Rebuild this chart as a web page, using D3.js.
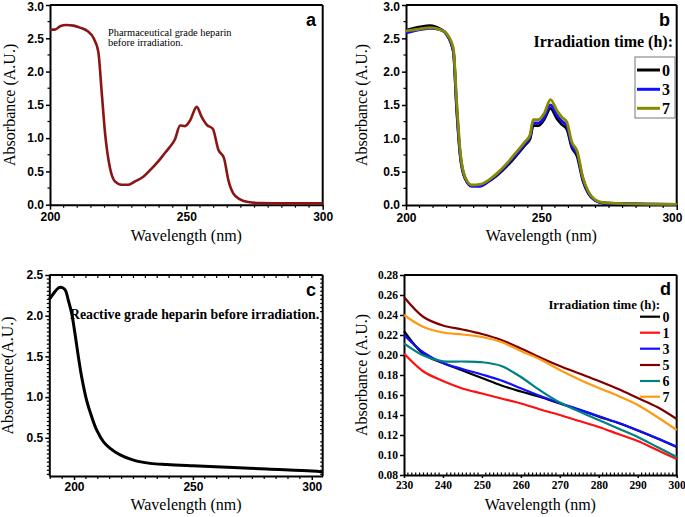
<!DOCTYPE html>
<html><head><meta charset="utf-8">
<script src="https://cdn.jsdelivr.net/npm/d3@7"></script>
<style>body{margin:0;background:#fff}svg{display:block}</style>
</head><body><svg id="chart" width="685" height="517"></svg>
<script>
// ---- Panel a: pharmaceutical grade heparin ----
const aWl  = [200,201.8,203.7,206,208.6,211,213.7,216,217.7,219,220.2,222,223.8,226.3,228.7,231.2,234.2,236.7,239.7,242.2,244,245.8,247.7,249.5,251.3,253.8,255.6,257.5,259.7,261.7,263.8,265.4,267.2,269.7,272.7,277,285.6,300];
const aAbs = [2.63,2.63,2.68,2.70,2.69,2.66,2.61,2.50,2.30,1.67,1.07,0.55,0.35,0.30,0.30,0.35,0.42,0.52,0.65,0.78,0.87,0.98,1.19,1.18,1.26,1.47,1.32,1.20,1.14,0.83,0.70,0.37,0.17,0.08,0.04,0.025,0.02,0.02];

// ---- Panel b: irradiation 0, 3, 7 h ----
const bWl = [200,205.2,208.9,212.6,215,217.5,218.7,220,221.8,224.3,227.3,230.4,233.5,237.2,240.3,244,245.8,247,248.9,251,253.4,255.7,257.5,259.4,261.2,263.3,265.3,267.4,269.8,272.9,280.3,300];
const b0  = [2.62,2.67,2.69,2.64,2.56,2.30,1.45,0.75,0.40,0.29,0.29,0.35,0.44,0.58,0.72,0.90,0.99,1.19,1.19,1.28,1.45,1.30,1.21,1.14,0.87,0.72,0.37,0.17,0.07,0.03,0.02,0.01];
const b3  = [2.58,2.63,2.65,2.63,2.56,2.31,1.48,0.77,0.41,0.28,0.28,0.35,0.45,0.60,0.74,0.92,1.02,1.23,1.23,1.31,1.50,1.35,1.26,1.19,0.90,0.76,0.40,0.18,0.07,0.03,0.02,0.01];
const b7  = [2.61,2.64,2.66,2.63,2.57,2.35,1.57,0.82,0.42,0.30,0.31,0.37,0.47,0.62,0.77,0.95,1.05,1.28,1.28,1.37,1.58,1.42,1.32,1.245,0.95,0.80,0.42,0.20,0.08,0.035,0.02,0.01];
const bLabels = ["0","3","7"];
const bColors = ["#000000","#1010ff","#8a8a00"];

// ---- Panel c: reactive grade heparin ----
const cWl  = [189.6,191.3,193.4,194.5,196.2,197.6,199,200.4,201.8,203.2,205.3,207.4,209.6,212.4,215.2,219.4,225,232,239,250,267.1,281.2,300,304.6];
const cAbs = [2.20,2.27,2.34,2.35,2.32,2.19,2.03,1.78,1.50,1.25,0.96,0.76,0.59,0.45,0.37,0.29,0.225,0.185,0.17,0.155,0.135,0.115,0.09,0.08];

// ---- Panel d: irradiation 0,1,3,5,6,7 h ----
const dWl = [230,235,240,245,250,255,260,265,270,275,280,285,290,295,300];
const d0 = [0.224,0.201,0.192,0.1845,0.177,0.1695,0.1635,0.158,0.1515,0.1452,0.1384,0.132,0.1245,0.1165,0.108];
const d1 = [0.2015,0.1835,0.174,0.1665,0.1615,0.1565,0.1515,0.1455,0.140,0.134,0.128,0.121,0.114,0.105,0.096];
const d3s = [0.220,0.2025,0.192,0.186,0.1805,0.1745,0.1667,0.159,0.152,0.1455,0.1387,0.1322,0.1247,0.1167,0.1083];
const d5 = [0.258,0.238,0.2295,0.2255,0.221,0.215,0.2065,0.1975,0.189,0.1815,0.174,0.166,0.157,0.148,0.136];
const d6 = [0.2117,0.1995,0.1937,0.1935,0.1928,0.189,0.178,0.1645,0.1525,0.1435,0.135,0.1265,0.118,0.108,0.098];
const d7 = [0.240,0.228,0.2225,0.2205,0.218,0.213,0.204,0.1955,0.185,0.1755,0.167,0.159,0.150,0.138,0.125];
const dLabels = ["0","1","3","5","6","7"];
const dColors = ["#000000","#ff1010","#1010ff","#800000","#008080","#ff9a10"];

const SANS = "'Liberation Sans', Arial, sans-serif";
const SERIF = "'Liberation Serif', 'Times New Roman', 'DejaVu Serif', serif";
const svg = d3.select("#chart");

function frame(g, box, sw) {
  g.append("line").attr("x1", box.l).attr("x2", box.r).attr("y1", box.t).attr("y2", box.t)
    .attr("stroke", "#000").attr("stroke-width", sw);
  g.append("line").attr("x1", box.r).attr("x2", box.r).attr("y1", box.t).attr("y2", box.b)
    .attr("stroke", "#000").attr("stroke-width", sw);
}

function styleAxis(sel, font, size, sw) {
  sel.select(".domain").attr("stroke-width", sw);
  sel.selectAll(".tick line").attr("stroke-width", 1.5);
  sel.selectAll("text").attr("font-family", font).attr("font-weight", "bold")
    .attr("font-size", size).attr("fill", "#000");
}

function minorTicks(g, scale, vals, orient, pos, len) {
  vals.forEach(v => {
    const p = scale(v);
    if (orient === "x") {
      g.append("line").attr("x1", p).attr("x2", p).attr("y1", pos).attr("y2", pos + len)
        .attr("stroke", "#000").attr("stroke-width", 1.2);
    } else {
      g.append("line").attr("y1", p).attr("y2", p).attr("x1", pos).attr("x2", pos + len)
        .attr("stroke", "#000").attr("stroke-width", 1.2);
    }
  });
}

function range(a, b, s) { const r = []; for (let v = a; v <= b + 1e-9; v += s) r.push(+v.toFixed(4)); return r; }

function titles(g, box, ytitle, yx, xty) {
  g.append("text").attr("x", (box.l + box.r) / 2).attr("y", xty).attr("text-anchor", "middle")
    .attr("font-family", SERIF).attr("font-size", 16).text("Wavelength (nm)");
  g.append("text").attr("transform", `translate(${yx},${(box.t + box.b) / 2}) rotate(-90)`)
    .attr("text-anchor", "middle").attr("font-family", SERIF).attr("font-size", 16).text(ytitle);
}

// ===== Panel a =====
(function () {
  const box = {l: 50, r: 322.7, t: 5, b: 204.7};
  const g = svg.append("g");
  const x = d3.scaleLinear([200, 300], [box.l, box.r]);
  const y = d3.scaleLinear([0, 3], [box.b, box.t]);
  frame(g, box, 2);
  minorTicks(g, x, range(205, 295, 5).filter(v => v % 50), "x", box.b, 3);
  minorTicks(g, y, range(0.25, 2.75, 0.5), "y", box.l, -2.5);
  const ax = g.append("g").attr("transform", `translate(0,${box.b})`)
    .call(d3.axisBottom(x).tickValues([200, 250, 300]).tickFormat(d3.format("d")).tickSize(5).tickSizeOuter(0).tickPadding(3));
  styleAxis(ax, SANS, 12, 2);
  const ay = g.append("g").attr("transform", `translate(${box.l},0)`)
    .call(d3.axisLeft(y).tickValues(range(0, 3, 0.5)).tickFormat(d3.format(".1f")).tickSize(4).tickSizeOuter(0).tickPadding(2));
  styleAxis(ay, SANS, 12, 2);
  ay.selectAll(".tick text").filter(d => d === 3).attr("dy", "0.45em");
  const line = d3.line().x((d, i) => x(aWl[i])).y(d => y(d)).curve(d3.curveMonotoneX);
  g.append("path").attr("d", line(aAbs)).attr("fill", "none").attr("stroke", "#8b1414").attr("stroke-width", 2.6);
  g.append("text").attr("x", 108).attr("y", 35.5).attr("font-family", SERIF).attr("font-size", 10.4).text("Pharmaceutical grade heparin");
  g.append("text").attr("x", 108).attr("y", 46).attr("font-family", SERIF).attr("font-size", 10.4).text("before irradiation.");
  g.append("text").attr("x", 316).attr("y", 26).attr("text-anchor", "end").attr("font-family", SANS)
    .attr("font-weight", "bold").attr("font-size", 18).text("a");
  titles(g, box, "Absorbance (A.U.)", 15, 241);
})();

// ===== Panel b =====
(function () {
  const box = {l: 406, r: 676.7, t: 5, b: 205};
  const g = svg.append("g");
  const x = d3.scaleLinear([200, 300], [box.l, box.r]);
  const y = d3.scaleLinear([0, 3], [box.b, box.t]);
  frame(g, box, 2);
  minorTicks(g, x, range(205, 295, 5).filter(v => v % 50), "x", box.b, 3);
  minorTicks(g, y, range(0.25, 2.75, 0.5), "y", box.l, -2.5);
  const ax = g.append("g").attr("transform", `translate(0,${box.b})`)
    .call(d3.axisBottom(x).tickValues([200, 250, 300]).tickFormat(d3.format("d")).tickSize(5).tickSizeOuter(0).tickPadding(3));
  styleAxis(ax, SANS, 12, 2);
  ax.selectAll(".tick text").filter(d => d === 300).attr("dx", "-0.4em");
  const ay = g.append("g").attr("transform", `translate(${box.l},0)`)
    .call(d3.axisLeft(y).tickValues(range(0, 3, 0.5)).tickFormat(d3.format(".1f")).tickSize(4).tickSizeOuter(0).tickPadding(2));
  styleAxis(ay, SANS, 12, 2);
  ay.selectAll(".tick text").filter(d => d === 3).attr("dy", "0.45em");
  const line = d3.line().x((d, i) => x(bWl[i])).y(d => y(d)).curve(d3.curveMonotoneX);
  [b0, b3, b7].forEach((s, k) => {
    g.append("path").attr("d", line(s)).attr("fill", "none").attr("stroke", bColors[k]).attr("stroke-width", 2.8);
  });
  g.append("text").attr("x", 670).attr("y", 26).attr("text-anchor", "end").attr("font-family", SANS)
    .attr("font-weight", "bold").attr("font-size", 18).text("b");
  g.append("text").attr("x", 673).attr("y", 47).attr("text-anchor", "end").attr("font-family", SERIF)
    .attr("font-weight", "bold").attr("font-size", 16).text("Irradiation time (h):");
  g.append("rect").attr("x", 635).attr("y", 57).attr("width", 40).attr("height", 61)
    .attr("fill", "#fff").attr("stroke", "#777").attr("stroke-width", 1);
  const rows = [70, 89.3, 108.3];
  bLabels.forEach((lab, k) => {
    g.append("line").attr("x1", 637).attr("x2", 660).attr("y1", rows[k]).attr("y2", rows[k])
      .attr("stroke", bColors[k]).attr("stroke-width", 3);
    g.append("text").attr("x", 662).attr("y", rows[k] + 5.5).attr("font-family", SERIF)
      .attr("font-weight", "bold").attr("font-size", 16).text(lab);
  });
  titles(g, box, "Absorbance (A.U.)", 367, 241);
})();

// ===== Panel c =====
(function () {
  const box = {l: 49.3, r: 322.7, t: 275, b: 476};
  const g = svg.append("g");
  const x = d3.scaleLinear([189.6, 304.6], [box.l, box.r]);
  const y = d3.scaleLinear([0.03, 2.5], [box.b, box.t]);
  frame(g, box, 2);
  const xm = range(190, 300, 5).filter(v => v % 50);
  minorTicks(g, x, xm, "x", box.b, 3);
  minorTicks(g, x, range(190, 300, 5), "x", box.t, 3);
  const ym = range(0.05, 2.45, 0.05).filter(v => Math.abs(v * 2 - Math.round(v * 2)) > 1e-6);
  minorTicks(g, y, ym, "y", box.l, -2.5);
  minorTicks(g, y, ym, "y", box.r, -2.5);
  const ax = g.append("g").attr("transform", `translate(0,${box.b})`)
    .call(d3.axisBottom(x).tickValues([200, 250, 300]).tickFormat(d3.format("d")).tickSize(4).tickSizeOuter(0).tickPadding(2));
  styleAxis(ax, SANS, 12, 2);
  const ay = g.append("g").attr("transform", `translate(${box.l},0)`)
    .call(d3.axisLeft(y).tickValues(range(0.5, 2.5, 0.5)).tickFormat(d3.format(".1f")).tickSize(4).tickSizeOuter(0).tickPadding(2));
  styleAxis(ay, SANS, 12, 2);
  const line = d3.line().x((d, i) => x(cWl[i])).y(d => y(d)).curve(d3.curveCatmullRom.alpha(0.5));
  g.append("path").attr("d", line(cAbs)).attr("fill", "none").attr("stroke", "#000").attr("stroke-width", 3);
  g.append("text").attr("x", 70).attr("y", 319).attr("font-family", SERIF).attr("font-weight", "bold")
    .attr("font-size", 13.8).text("Reactive grade heparin before irradiation.");
  g.append("text").attr("x", 316).attr("y", 296).attr("text-anchor", "end").attr("font-family", SANS)
    .attr("font-weight", "bold").attr("font-size", 18).text("c");
  titles(g, box, "Absorbance(A.U.)", 13, 510);
})();

// ===== Panel d =====
(function () {
  const box = {l: 404, r: 676.7, t: 275, b: 475};
  const g = svg.append("g");
  const x = d3.scaleLinear([230, 300], [box.l, box.r]);
  const y = d3.scaleLinear([0.08, 0.28], [box.b, box.t]);
  frame(g, box, 2);
  minorTicks(g, x, range(231, 299, 1).filter(v => v % 10), "x", box.b, -2.5);
  const ax = g.append("g").attr("transform", `translate(0,${box.b})`)
    .call(d3.axisBottom(x).tickValues(range(230, 300, 10)).tickFormat(d3.format("d")).tickSize(3).tickSizeOuter(0).tickPadding(3));
  styleAxis(ax, SERIF, 11.5, 2);
  const ay = g.append("g").attr("transform", `translate(${box.l},0)`)
    .call(d3.axisLeft(y).tickValues(range(0.08, 0.28, 0.02)).tickFormat(d3.format(".2f")).tickSize(4).tickSizeOuter(0).tickPadding(2));
  styleAxis(ay, SERIF, 11.5, 2);
  const line = d3.line().x((d, i) => x(dWl[i])).y(d => y(d)).curve(d3.curveCatmullRom.alpha(0.5));
  const series = [d0, d1, d3s, d5, d6, d7];
  series.forEach((s, k) => {
    g.append("path").attr("d", line(s)).attr("fill", "none").attr("stroke", dColors[k]).attr("stroke-width", 2.2);
  });
  g.append("text").attr("x", 671).attr("y", 295).attr("text-anchor", "end").attr("font-family", SANS)
    .attr("font-weight", "bold").attr("font-size", 18).text("d");
  g.append("text").attr("x", 660).attr("y", 309).attr("text-anchor", "end").attr("font-family", SERIF)
    .attr("font-weight", "bold").attr("font-size", 12.8).text("Irradiation time (h):");
  const rows = [316.7, 332.7, 348.7, 365, 381, 396.7];
  dLabels.forEach((lab, k) => {
    g.append("line").attr("x1", 640).attr("x2", 660).attr("y1", rows[k]).attr("y2", rows[k])
      .attr("stroke", dColors[k]).attr("stroke-width", 2.2);
    g.append("text").attr("x", 662.5).attr("y", rows[k] + 5).attr("font-family", SERIF)
      .attr("font-weight", "bold").attr("font-size", 14).text(lab);
  });
  titles(g, box, "Absorbance (A.U.)", 367, 510);
})();
</script></body></html>
